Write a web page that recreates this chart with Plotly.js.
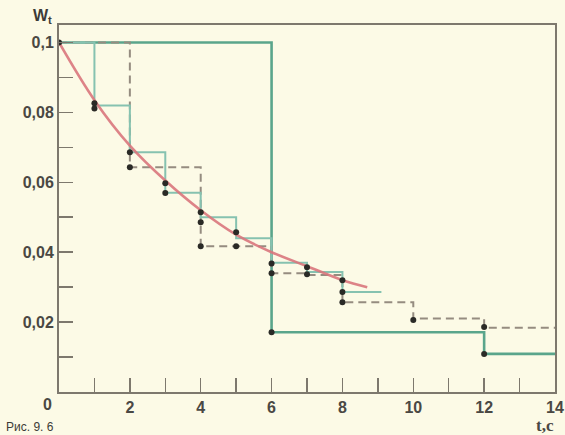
<!DOCTYPE html>
<html>
<head>
<meta charset="utf-8">
<script src="https://cdn.plot.ly/plotly-3.0.1.min.js"></script>
<style>
  html, body { margin: 0; padding: 0; background: #fcfae6; }
  #chart { width: 565px; height: 435px; }
</style>
</head>
<body>
<div id="chart"></div>
<script>
// Smooth (continuous) curve W(t)
const curveT = [0, 1, 2, 3, 4, 5, 6, 7, 8, 8.7];
const curveW = [0.1, 0.0835, 0.0705, 0.0605, 0.052, 0.045, 0.040, 0.036, 0.032, 0.030];

// Step reconstruction, interval 1
const step1T = [0, 1, 2, 3, 4, 5, 6, 7, 8, 9.1];
const step1W = [0.1, 0.082, 0.0686, 0.057, 0.050, 0.044, 0.037, 0.0343, 0.0286, 0.0286];

// Step reconstruction, interval 6
const step6T = [0, 6, 12, 14];
const step6W = [0.1, 0.0171, 0.0109, 0.0109];

// Adaptive (dashed) step reconstruction
const dashT = [0, 2, 4, 6, 7, 8, 10, 12, 14];
const dashW = [0.1, 0.0643, 0.0417, 0.034, 0.0335, 0.0257, 0.021, 0.0184, 0.0184];

// Sample points (black dots)
const dotT = [0, 1, 1, 2, 2, 3, 3, 4, 4, 4, 5, 5, 6, 6, 6, 7, 7, 8, 8, 8, 10, 12, 12];
const dotW = [0.1, 0.0826, 0.0811, 0.0686, 0.0643, 0.0597, 0.0569, 0.0514, 0.0486, 0.0417,
              0.0457, 0.0417, 0.0368, 0.034, 0.0171, 0.0357, 0.0337, 0.032, 0.0286, 0.0257,
              0.0206, 0.0186, 0.0109];

// Tick labels
const xTickVals = [2, 4, 6, 8, 10, 12, 14];
const xTickText = ['2', '4', '6', '8', '10', '12', '14'];
const yTickVals = [0.02, 0.04, 0.06, 0.08, 0.1];
const yTickText = ['0,02', '0,04', '0,06', '0,08', '0,1'];

const labelFont = { family: 'Liberation Sans, Arial, sans-serif', size: 16, color: '#4a4843', weight: 'bold' };
const axisColor = '#7d786d';

const traces = [
  { x: step6T, y: step6W, mode: 'lines', line: { shape: 'hv', color: '#5aa58b', width: 2.6 }, hoverinfo: 'none' },
  { x: dashT, y: dashW, mode: 'lines', line: { shape: 'hv', color: '#958c80', width: 2, dash: '8px,5px' }, hoverinfo: 'none' },
  { x: step1T, y: step1W, mode: 'lines', line: { shape: 'hv', color: '#86c2b0', width: 2 }, hoverinfo: 'none' },
  { x: curveT, y: curveW, mode: 'lines', line: { shape: 'spline', color: '#d9767c', width: 2.6 }, opacity: 0.9, hoverinfo: 'none' },
  { x: dotT, y: dotW, mode: 'markers', marker: { color: '#2a2a26', size: 6 }, hoverinfo: 'none' }
];

const axisCommon = {
  showgrid: false, zeroline: false,
  showline: true, mirror: true, linecolor: axisColor, linewidth: 2,
  ticks: 'inside', tickcolor: axisColor, tickwidth: 1.5, ticklen: 14,
  tickfont: labelFont,
  tickmode: 'array'
};

const layout = {
  width: 565, height: 435,
  margin: { l: 59, r: 10, t: 25, b: 43 },
  paper_bgcolor: '#fcfae6', plot_bgcolor: '#fcfae6',
  showlegend: false,
  xaxis: Object.assign({}, axisCommon, {
    range: [0, 14], tickvals: xTickVals, ticktext: xTickText,
    minor: { ticks: 'inside', tick0: 0, dtick: 1, ticklen: 14, tickwidth: 1.5, tickcolor: axisColor, showgrid: false }
  }),
  yaxis: Object.assign({}, axisCommon, {
    range: [0, 0.105], tickvals: yTickVals, ticktext: yTickText,
    minor: { ticks: 'inside', tick0: 0, dtick: 0.01, ticklen: 14, tickwidth: 1.5, tickcolor: axisColor, showgrid: false }
  }),
  annotations: [
    { text: 'W<sub>t</sub>', xref: 'paper', yref: 'paper', x: -0.034, y: 1.022, xanchor: 'center', yanchor: 'middle', showarrow: false,
      font: { family: 'Liberation Sans, Arial, sans-serif', size: 16, color: '#3d3b37', weight: 'bold' } },
    { text: '0', xref: 'paper', yref: 'paper', x: -0.024, y: -0.035, xanchor: 'center', yanchor: 'middle', showarrow: false,
      font: labelFont },
    { text: 't,c', xref: 'paper', yref: 'paper', x: 0.98, y: -0.09, xanchor: 'center', yanchor: 'middle', showarrow: false,
      font: { family: 'Liberation Serif, serif', size: 17, color: '#4a4843', weight: 'bold' } },
    { text: 'Рис. 9. 6', xref: 'paper', yref: 'paper', x: -0.11, y: -0.095, xanchor: 'left', yanchor: 'middle', showarrow: false,
      font: { family: 'Liberation Sans, Arial, sans-serif', size: 12, color: '#3d3b37' } }
  ]
};

Plotly.newPlot('chart', traces, layout, { staticPlot: true, displayModeBar: false });
</script>
</body>
</html>
